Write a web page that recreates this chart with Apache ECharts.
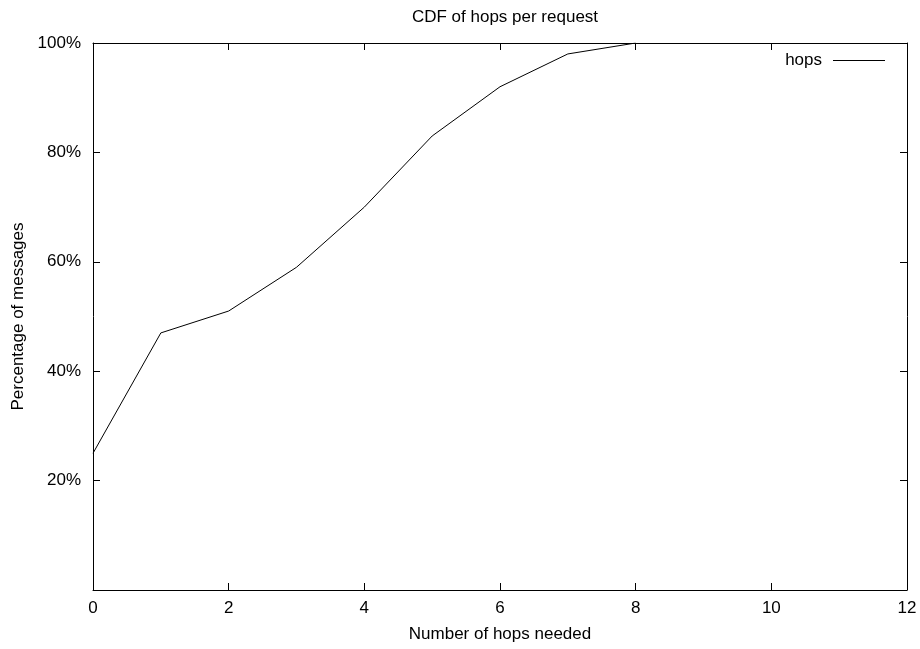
<!DOCTYPE html>
<html>
<head>
<meta charset="utf-8">
<script src="https://cdn.jsdelivr.net/npm/echarts@6/dist/echarts.min.js"></script>
<style>
html,body{margin:0;padding:0;background:#fff;}
#main{width:920px;height:649px;}
</style>
</head>
<body>
<div id="main"></div>
<script>
// data
var hops = [0, 1, 2, 3, 4, 5, 6, 7, 8];
var percent = [25, 47, 51, 59, 70, 83, 92, 98, 100];
var xTicks = [0, 2, 4, 6, 8, 10, 12];
var yTicks = [0, 20, 40, 60, 80, 100];

var points = hops.map(function(h, i){ return [h, percent[i]]; });

var chart = echarts.init(document.getElementById("main"));
var font = "Liberation Sans, Arial, sans-serif";
var fs = 17;
var axisLine = {show: true, onZero: false, lineStyle: {color: "#000", width: 1}};
var tick = {show: true, inside: true, length: 7, lineStyle: {color: "#000"}};

var option = {
  animation: false,
  backgroundColor: "#fff",
  title: {
    text: "CDF of hops per request",
    left: 500, top: 4, textAlign: "center",
    textStyle: {fontFamily: font, fontSize: fs, fontWeight: "normal", color: "#000"}
  },
  legend: {
    data: ["hops"],
    right: 30, top: 47,
    align: "right",
    itemGap: 0,
    icon: "path://M0,0 L52,0 L52,1 L0,1 Z",
    itemWidth: 52, itemHeight: 1,
    textStyle: {fontFamily: font, fontSize: fs, color: "#000", padding: [0, 6, 0, 0]}
  },
  grid: {left: 93, right: 13, top: 43, bottom: 59},
  xAxis: [{
    type: "value", min: 0, max: 12, interval: 2,
    name: "Number of hops needed", nameLocation: "middle", nameGap: 36,
    nameTextStyle: {fontFamily: font, fontSize: fs, color: "#000"},
    axisLine: axisLine, axisTick: tick,
    axisLabel: {fontFamily: font, fontSize: fs, color: "#000", margin: 10},
    splitLine: {show: false}
  }, {
    type: "value", min: 0, max: 12, interval: 2, position: "top",
    axisLine: axisLine, axisTick: tick, axisLabel: {show: false}, splitLine: {show: false}
  }],
  yAxis: [{
    type: "value", min: 0, max: 100, interval: 20,
    name: "Percentage of messages", nameLocation: "middle", nameGap: 66,
    nameTextStyle: {fontFamily: font, fontSize: fs, color: "#000"},
    axisLine: axisLine, axisTick: tick,
    axisLabel: {
      fontFamily: font, fontSize: fs, color: "#000", margin: 12,
      formatter: function(v){ return yTicks.indexOf(v) > 0 ? v + "%" : ""; }
    },
    splitLine: {show: false}
  }, {
    type: "value", min: 0, max: 100, interval: 20, position: "right",
    axisLine: axisLine, axisTick: tick, axisLabel: {show: false}, splitLine: {show: false}
  }],
  series: [{
    name: "hops",
    type: "line",
    data: points,
    showSymbol: false,
    symbol: "none",
    lineStyle: {color: "#000", width: 1},
    itemStyle: {color: "#000"}
  }, {
    name: "frame",
    type: "line",
    xAxisIndex: 1, yAxisIndex: 1,
    data: [],
    symbol: "none",
    silent: true
  }]
};

chart.setOption(option);
</script>
</body>
</html>
